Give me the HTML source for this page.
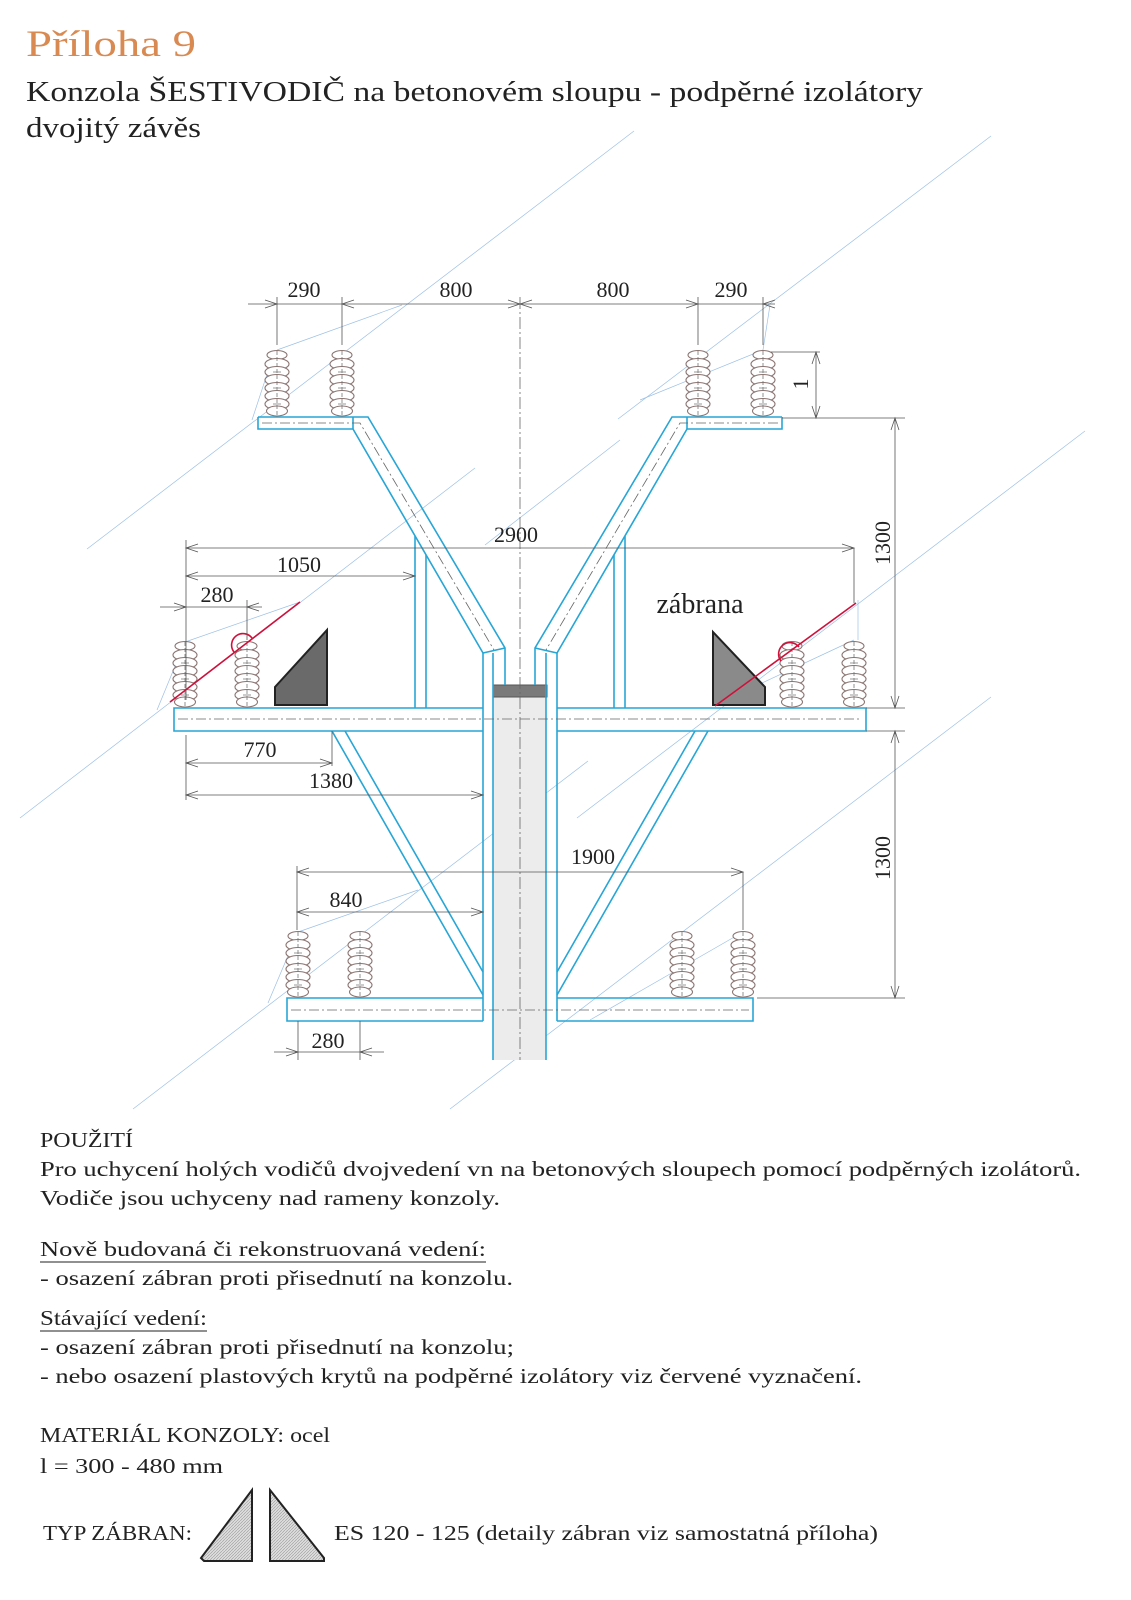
<!DOCTYPE html>
<html><head><meta charset="utf-8"><style>
html,body{margin:0;padding:0;background:#fff;}
svg{display:block;}
text{font-family:"Liberation Serif",serif;fill:#222;}
</style></head><body>
<svg width="1131" height="1600" viewBox="0 0 1131 1600" xmlns="http://www.w3.org/2000/svg">
<defs>
<g id="ins" fill="#fff" stroke="#8a7572" stroke-width="1.1">
<ellipse cx="0" cy="4" rx="10" ry="4.5"/>
<ellipse cx="0" cy="13" rx="12" ry="5.5"/>
<ellipse cx="0" cy="21" rx="12" ry="5.5"/>
<ellipse cx="0" cy="29" rx="12" ry="5.5"/>
<ellipse cx="0" cy="37" rx="12" ry="5.5"/>
<ellipse cx="0" cy="45" rx="12" ry="5.5"/>
<ellipse cx="0" cy="53" rx="12" ry="5.5"/>
<ellipse cx="0" cy="60" rx="10.5" ry="5"/>
<line x1="0" y1="0" x2="0" y2="66" stroke="#777" stroke-width="0.8" stroke-dasharray="4 2"/>
<path d="M-4 21h8M-4 37h8M-4 53h8" stroke="#777" stroke-width="0.8"/>
</g>
<pattern id="hatch" width="3" height="3" patternUnits="userSpaceOnUse"><rect width="3" height="3" fill="#ddd"/><path d="M0 3L3 0" stroke="#999" stroke-width="0.6"/></pattern>
</defs>

<g stroke="#9cc0e6" stroke-width="0.7" fill="none">
<line x1="87" y1="549" x2="634" y2="131"/>
<line x1="20" y1="818" x2="475" y2="468"/>
<line x1="618" y1="419" x2="991" y2="136"/>
<line x1="577" y1="818" x2="1085" y2="431"/>
<line x1="133" y1="1109" x2="588" y2="761"/>
<line x1="450" y1="1109" x2="991" y2="697"/>
<line x1="485" y1="545" x2="620" y2="440"/>
<line x1="252" y1="420" x2="275" y2="350"/>
<line x1="277" y1="350" x2="402" y2="305"/>
<line x1="157" y1="710" x2="185" y2="642"/>
<line x1="185" y1="642" x2="300" y2="602"/>
<line x1="268" y1="1003" x2="298" y2="932"/>
<line x1="298" y1="932" x2="418" y2="890"/>
<line x1="715" y1="705" x2="854" y2="640"/>
<line x1="858" y1="640" x2="858" y2="600"/>
<line x1="743" y1="932" x2="590" y2="1020"/>
<line x1="763" y1="350" x2="770" y2="305"/>
<line x1="763" y1="350" x2="640" y2="400"/>
</g>

<text x="26" y="56" font-size="37" style="fill:#d98a52" textLength="170" lengthAdjust="spacingAndGlyphs">Příloha 9</text>
<text x="26" y="101" font-size="28" textLength="897" lengthAdjust="spacingAndGlyphs">Konzola ŠESTIVODIČ na betonovém sloupu - podpěrné izolátory</text>
<text x="26" y="137" font-size="28" textLength="175" lengthAdjust="spacingAndGlyphs">dvojitý závěs</text>

<rect x="493" y="697" width="53" height="363" fill="#ececec"/>
<rect x="493" y="685" width="54" height="12" fill="#7a7a7a" stroke="#555"/>
<line x1="520" y1="297" x2="520" y2="1060" stroke="#666" stroke-width="0.8" stroke-dasharray="12 3 2 3"/>

<g fill="none" stroke="#27a6d6" stroke-width="1.6">
<path d="M258 417H368L505 648V685M258 417V429H353L483 653"/>
<line x1="353" y1="417" x2="353" y2="429"/>
<line x1="483" y1="653" x2="505" y2="648"/>
<path d="M782 417H672L535 648V685M782 417V429H687L557 653"/>
<line x1="687" y1="417" x2="687" y2="429"/>
<line x1="557" y1="653" x2="535" y2="648"/>
<path d="M483 653V1021M493 653V1060M546 653V1060M557 653V1021"/>
<path d="M415 536V708M426 555V708M625 536V708M614 555V708"/>
<path d="M483 708H174V731H483M557 708H866V731H557"/>
<path d="M332 731L483 995M345 731L483 972M708 731L557 995M695 731L557 972"/>
<path d="M483 998H287V1021H483M557 998H753V1021H557"/>
</g>

<g stroke="#666" stroke-width="0.8" stroke-dasharray="10 3 2 3" fill="none">
<path d="M262 423H360L494 650"/>
<path d="M778 423H680L546 650"/>
<line x1="178" y1="719" x2="862" y2="719"/>
<line x1="291" y1="1010" x2="749" y2="1010"/>
</g>

<use href="#ins" x="277" y="351"/>
<use href="#ins" x="342" y="351"/>
<use href="#ins" x="698" y="351"/>
<use href="#ins" x="763" y="351"/>
<use href="#ins" x="185" y="642"/>
<use href="#ins" x="247" y="642"/>
<use href="#ins" x="792" y="642"/>
<use href="#ins" x="854" y="642"/>
<use href="#ins" x="298" y="932"/>
<use href="#ins" x="360" y="932"/>
<use href="#ins" x="682" y="932"/>
<use href="#ins" x="743" y="932"/>

<path d="M275 705V687L327 630V705Z" fill="#6a6a6a" stroke="#222" stroke-width="2"/>
<path d="M713 632V705H765V687Z" fill="#8a8a8a" stroke="#222" stroke-width="2"/>

<g stroke="#d0103a" stroke-width="1.6" fill="none">
<line x1="170" y1="702" x2="300" y2="602"/>
<path d="M234 652A10 10 0 1 1 252 638"/>
<line x1="715" y1="706" x2="856" y2="603"/>
<path d="M781 661A10 10 0 1 1 799 647"/>
</g>

<g stroke="#555" stroke-width="0.8" fill="none">
<line x1="248" y1="304" x2="775" y2="304"/>
<path d="M277 297V345M342 297V345M698 297V345M763 297V345"/>
<path d="M265 300L277 304L265 308M354 300L342 304L354 308M508 300L520 304L508 308M532 300L520 304L532 308M686 300L698 304L686 308M775 300L763 304L775 308"/>
<path d="M771 352H820M782 418H905M816 352V418M812 364L816 352L820 364M812 406L816 418L820 406"/>
<path d="M895 418V708M891 430L895 418L899 430M891 696L895 708L899 696M895 731V998M891 743L895 731L899 743M891 986L895 998L899 986M866 708H905M866 731H905M757 998H905"/>
<path d="M186 548H854M198 544L186 548L198 552M842 544L854 548L842 552M854 548V603M186 540V700"/>
<path d="M186 576H415M198 572L186 576L198 580M403 572L415 576L403 580"/>
<path d="M160 607H262M174 603L186 607L174 611M259 603L247 607L259 611M247 600V640"/>
<path d="M186 735V800M186 763H332M198 759L186 763L198 767M320 759L332 763L320 767M332 731V766M186 795H483M198 791L186 795L198 799M471 791L483 795L471 799"/>
<path d="M297 866V930M297 872H743M309 868L297 872L309 876M731 868L743 872L731 876M743 872V930M297 912H483M309 908L297 912L309 916M471 908L483 912L471 916"/>
<path d="M298 1021V1060M360 1021V1060M274 1052H384M286 1048L298 1052L286 1056M372 1048L360 1052L372 1056"/>
</g>

<g font-size="22" text-anchor="middle">
<text x="304" y="297">290</text>
<text x="456" y="297">800</text>
<text x="613" y="297">800</text>
<text x="731" y="297">290</text>
<text x="516" y="542">2900</text>
<text x="299" y="572">1050</text>
<text x="217" y="602">280</text>
<text x="260" y="757">770</text>
<text x="331" y="788">1380</text>
<text x="346" y="907">840</text>
<text x="593" y="864">1900</text>
<text x="328" y="1048">280</text>
<text transform="translate(808,384) rotate(-90)">1</text>
<text transform="translate(890,543) rotate(-90)">1300</text>
<text transform="translate(890,858) rotate(-90)">1300</text>
</g>
<text x="700" y="613" font-size="28" text-anchor="middle">zábrana</text>

<g font-size="21">
<text x="40" y="1147" textLength="93" lengthAdjust="spacingAndGlyphs">POUŽITÍ</text>
<text x="40" y="1176" textLength="1041" lengthAdjust="spacingAndGlyphs">Pro uchycení holých vodičů dvojvedení vn na betonových sloupech pomocí podpěrných izolátorů.</text>
<text x="40" y="1205" textLength="460" lengthAdjust="spacingAndGlyphs">Vodiče jsou uchyceny nad rameny konzoly.</text>
<text x="40" y="1256" textLength="446" lengthAdjust="spacingAndGlyphs">Nově budovaná či rekonstruovaná vedení:</text>
<text x="40" y="1285" textLength="473" lengthAdjust="spacingAndGlyphs">- osazení zábran proti přisednutí na konzolu.</text>
<text x="40" y="1325" textLength="167" lengthAdjust="spacingAndGlyphs">Stávající vedení:</text>
<text x="40" y="1354" textLength="474" lengthAdjust="spacingAndGlyphs">- osazení zábran proti přisednutí na konzolu;</text>
<text x="40" y="1383" textLength="822" lengthAdjust="spacingAndGlyphs">- nebo osazení plastových krytů na podpěrné izolátory viz červené vyznačení.</text>
<text x="40" y="1442" textLength="290" lengthAdjust="spacingAndGlyphs">MATERIÁL KONZOLY: ocel</text>
<text x="40" y="1473" textLength="183" lengthAdjust="spacingAndGlyphs">l = 300 - 480 mm</text>
<text x="43" y="1540" textLength="149" lengthAdjust="spacingAndGlyphs">TYP ZÁBRAN:</text>
<text x="334" y="1540" textLength="544" lengthAdjust="spacingAndGlyphs">ES 120 - 125 (detaily zábran viz samostatná příloha)</text>
</g>
<g stroke="#222" stroke-width="0.9">
<line x1="40" y1="1262" x2="486" y2="1262"/>
<line x1="40" y1="1331" x2="207" y2="1331"/>
</g>
<path d="M201 1558L204 1561H252V1490Z" fill="url(#hatch)" stroke="#222" stroke-width="2"/>
<path d="M270 1490V1561H324V1558Z" fill="url(#hatch)" stroke="#222" stroke-width="2"/>
</svg>
</body></html>
